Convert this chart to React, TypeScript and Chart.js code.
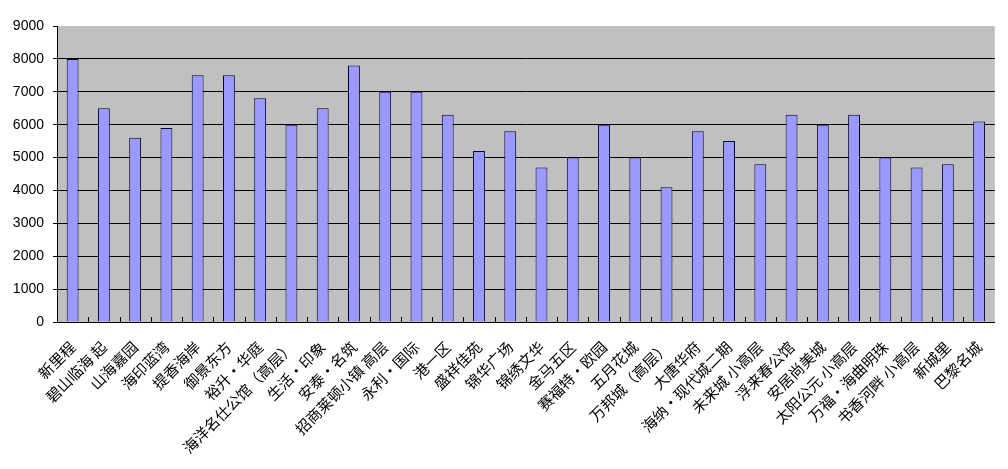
import React, { useEffect, useRef } from "react";
import { Chart, registerables } from "chart.js";

Chart.register(...registerables);

const categories: string[] = [
  "新里程", "碧山临海 起", "山海嘉园", "海印蓝湾", "提香海岸", "御景东方", "裕升·华庭",
  "海洋名仕公馆（高层）", "生活·印象", "安泰·名筑", "招商莱顿小镇 高层", "永利·国际",
  "港一区", "盛祥佳苑", "锦华广场", "锦绣文华", "金马五区", "赛福特·欧园", "五月花城",
  "万邦城（高层）", "大唐华府", "海纳·现代城二期", "未来城 小高层", "浮来春公馆",
  "安居尚美城", "太阳公元 小高层", "万福·海曲明珠", "书香河畔 小高层", "新城里", "巴黎名城",
];

const prices: number[] = [
  8000, 6500, 5600, 5900, 7500, 7500, 6800, 6000, 6500, 7800,
  7000, 7000, 6300, 5200, 5800, 4700, 5000, 6000, 5000, 4100,
  5800, 5500, 4800, 6300, 6000, 6300, 5000, 4700, 4800, 6100,
];

const yTicks: number[] = [0, 1000, 2000, 3000, 4000, 5000, 6000, 7000, 8000, 9000];

const bgPlugin = {
  id: "plotBg",
  beforeDraw(chart: any) {
    const { ctx, chartArea } = chart;
    ctx.save();
    ctx.fillStyle = "#C0C0C0";
    ctx.fillRect(chartArea.left, chartArea.top, chartArea.right - chartArea.left, chartArea.bottom - chartArea.top);
    ctx.restore();
  },
  afterDatasetsDraw(chart: any) {
    const { ctx, chartArea, scales } = chart;
    const x = scales.x;
    const n = categories.length;
    ctx.save();
    ctx.strokeStyle = "#000";
    ctx.lineWidth = 1;
    for (let i = 1; i < n; i++) {
      const px = Math.round((x.getPixelForValue(i - 1) + x.getPixelForValue(i)) / 2) + 0.5;
      ctx.beginPath();
      ctx.moveTo(px, chartArea.bottom);
      ctx.lineTo(px, chartArea.bottom - 5);
      ctx.stroke();
    }
    ctx.restore();
  },
};

export default function App() {
  const ref = useRef<HTMLCanvasElement>(null);
  useEffect(() => {
    document.body.style.margin = "0";
    const chart = new Chart(ref.current!, {
      type: "bar",
      data: {
        labels: categories,
        datasets: [
          {
            data: prices,
            backgroundColor: "#9999FF",
            borderColor: "#000033",
            borderWidth: 1,
            barPercentage: 0.38,
            categoryPercentage: 1,
          },
        ],
      },
      options: {
        responsive: false,
        animation: false,
        layout: { padding: { top: 26, right: 10, left: 0, bottom: 0 } },
        plugins: { legend: { display: false }, tooltip: { enabled: false } },
        scales: {
          x: {
            grid: { display: false, drawTicks: false },
            border: { display: true, color: "#000", width: 1 },
            ticks: {
              autoSkip: false,
              maxRotation: 45,
              minRotation: 45,
              padding: 16,
              color: "#000",
              font: { family: "'Noto Sans CJK SC'", size: 15 },
            },
            afterFit(scale: any) {
              scale.height = 147;
            },
          },
          y: {
            min: 0,
            max: 9000,
            afterBuildTicks(scale: any) {
              scale.ticks = yTicks.map((v) => ({ value: v }));
            },
            grid: {
              color: (c: any) => (c.tick && c.tick.value === 9000 ? "rgba(0,0,0,0)" : "#000"),
              drawTicks: true,
              tickLength: 4,
              tickColor: "#000",
            },
            border: { display: true, color: "#000", width: 1 },
            ticks: {
              padding: 9,
              color: "#000",
              font: { family: "'Liberation Sans'", size: 14 },
              callback: (v: any) => String(v),
            },
            afterFit(scale: any) {
              scale.width = 57;
            },
          },
        },
      },
      plugins: [bgPlugin],
    });
    return () => chart.destroy();
  }, []);
  return (
    <div style={{ width: 1008, height: 469 }}>
      <canvas ref={ref} width={1008} height={469} style={{ display: "block" }} />
    </div>
  );
}
